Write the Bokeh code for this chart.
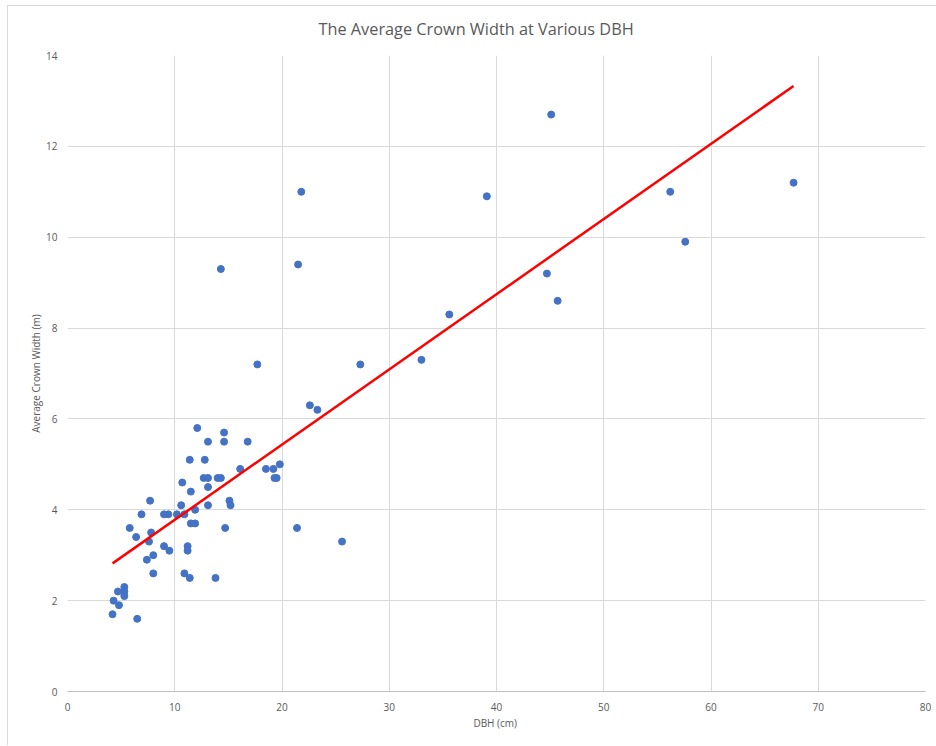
from bokeh.plotting import figure
from bokeh.models import Range1d, FixedTicker, Title
from bokeh.embed import file_html
from bokeh.resources import INLINE

# Data
dbh = [4.2, 4.3, 4.7, 4.8, 5.3, 5.3, 5.3, 6.5, 5.8, 6.4, 6.9, 7.7, 7.8, 7.6, 8.0, 7.4,
       8.0, 9.0, 9.5, 9.0, 9.4, 10.2, 10.9, 10.6, 10.7, 11.5, 11.9, 11.4, 12.1, 11.5,
       11.9, 11.2, 11.2, 10.9, 11.4, 12.8, 13.1, 14.6, 14.6, 16.8, 12.7, 13.1, 14.0,
       14.3, 13.1, 13.1, 15.1, 15.2, 14.7, 13.8, 16.1, 18.5, 19.2, 19.8, 19.3, 19.5,
       21.4, 25.6, 21.8, 14.3, 21.5, 39.1, 44.7, 45.7, 35.6, 17.7, 27.3, 33.0, 22.6,
       23.3, 45.1, 56.2, 67.7, 57.6]
crown_width = [1.7, 2.0, 2.2, 1.9, 2.3, 2.2, 2.1, 1.6, 3.6, 3.4, 3.9, 4.2, 3.5, 3.3, 3.0,
               2.9, 2.6, 3.2, 3.1, 3.9, 3.9, 3.9, 3.9, 4.1, 4.6, 4.4, 4.0, 5.1, 5.8, 3.7,
               3.7, 3.2, 3.1, 2.6, 2.5, 5.1, 5.5, 5.7, 5.5, 5.5, 4.7, 4.7, 4.7, 4.7, 4.5,
               4.1, 4.2, 4.1, 3.6, 2.5, 4.9, 4.9, 4.9, 5.0, 4.7, 4.7, 3.6, 3.3, 11.0, 9.3,
               9.4, 10.9, 9.2, 8.6, 8.3, 7.2, 7.2, 7.3, 6.3, 6.2, 12.7, 11.0, 11.2, 9.9]

# Linear trendline
trend_slope = 0.1655
trend_intercept = 2.125

x_ticks = [0, 10, 20, 30, 40, 50, 60, 70, 80]
y_ticks = [0, 2, 4, 6, 8, 10, 12, 14]

title_text = "The Average Crown Width at Various DBH"

FONT = "Open Sans"
GRAY = "#595959"

p = figure(width=929, height=740, output_backend="svg", toolbar_location=None,
           x_range=Range1d(0, 80), y_range=Range1d(0, 14),
           min_border_left=59, min_border_right=12, min_border_top=49, min_border_bottom=55)
p.margin = (5, 0, 0, 7)
p.styles = {"border-left": "1px solid #d9d9d9", "border-top": "1px solid #d9d9d9"}

# spacer between plot area and title, then the title itself
p.add_layout(Title(text=" ", text_font_size="10px", standoff=3), "above")
p.add_layout(Title(text=title_text, align="left", offset=251, standoff=0,
                   text_font=FONT, text_font_size="16.3px", text_font_style="normal",
                   text_color=GRAY), "above")

p.outline_line_color = None
p.background_fill_color = "white"
p.border_fill_color = "white"

for ax in (p.xaxis[0], p.yaxis[0]):
    ax.major_tick_line_color = None
    ax.minor_tick_line_color = None
    ax.major_tick_out = 0
    ax.major_tick_in = 0
    ax.major_label_text_font = FONT
    ax.major_label_text_font_size = "10px"
    ax.major_label_text_color = GRAY
    ax.axis_label_text_font = FONT
    ax.axis_label_text_font_size = "10px"
    ax.axis_label_text_font_style = "normal"
    ax.axis_label_text_color = GRAY

p.xaxis.ticker = FixedTicker(ticks=x_ticks)
p.yaxis.ticker = FixedTicker(ticks=y_ticks)
p.xaxis.axis_label = "DBH  (cm)"
p.yaxis.axis_label = "Average Crown Width (m)"
p.xaxis.axis_line_color = "#bfbfbf"
p.yaxis.axis_line_color = None
p.xaxis.major_label_standoff = 11
p.yaxis.major_label_standoff = 10
p.xaxis.axis_label_standoff = 2
p.yaxis.axis_label_standoff = 0

p.xgrid.grid_line_color = "#d9d9d9"
p.ygrid.grid_line_color = "#d9d9d9"

p.scatter(dbh, crown_width, size=7, color="#4472C4")

x0, x1 = min(dbh), max(dbh)
p.line([x0, x1], [trend_intercept + trend_slope * x0, trend_intercept + trend_slope * x1],
       line_color="#FF0000", line_width=2.5)

open("out.html", "w").write(file_html(p, INLINE))
